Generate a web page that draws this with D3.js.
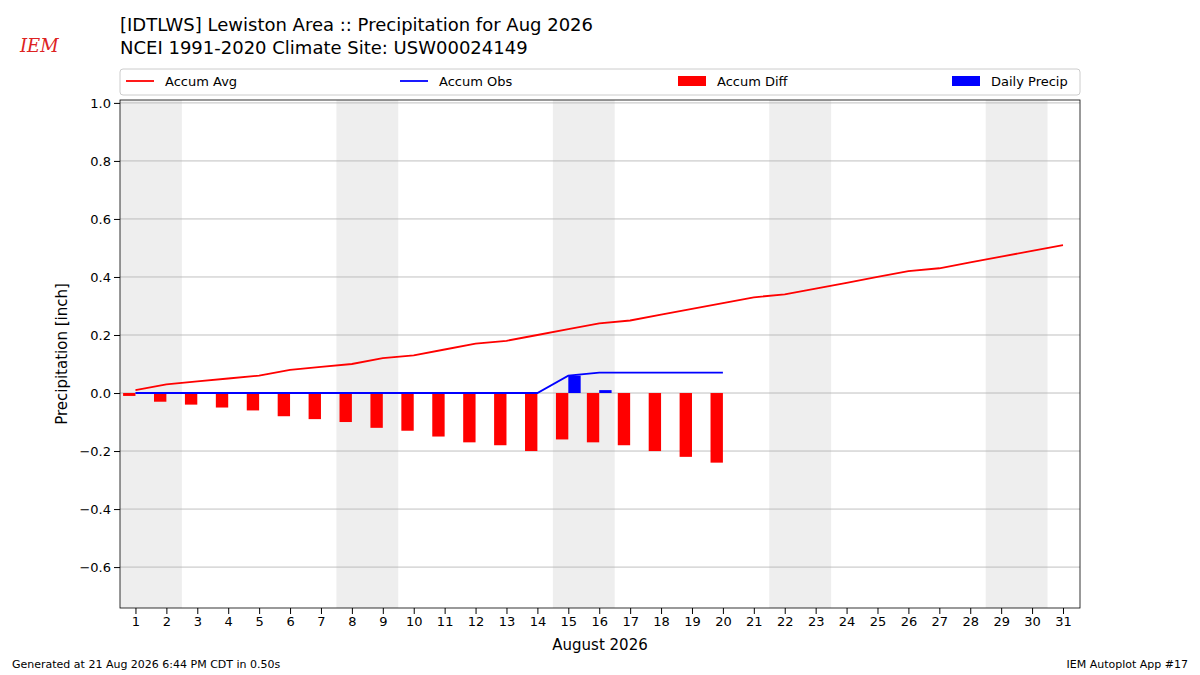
<!DOCTYPE html>
<html><head><meta charset="utf-8">
<script src="https://cdn.jsdelivr.net/npm/d3@7"></script>
<style>body{margin:0;background:#fff;font-family:"DejaVu Sans",sans-serif}</style>
</head><body><div id="chart"></div>
<script>
const days = d3.range(1, 32);
const accumAvg = [0.01,0.03,0.04,0.05,0.06,0.08,0.09,0.10,0.12,0.13,0.15,0.17,0.18,0.20,0.22,0.24,0.25,0.27,0.29,0.31,0.33,0.34,0.36,0.38,0.40,0.42,0.43,0.45,0.47,0.49,0.51];
const accumObs = [0,0,0,0,0,0,0,0,0,0,0,0,0,0,0.06,0.07,0.07,0.07,0.07,0.07];
const accumDiff = [-0.01,-0.03,-0.04,-0.05,-0.06,-0.08,-0.09,-0.10,-0.12,-0.13,-0.15,-0.17,-0.18,-0.20,-0.16,-0.17,-0.18,-0.20,-0.22,-0.24];
const dailyPrecip = [0,0,0,0,0,0,0,0,0,0,0,0,0,0,0.06,0.01,0,0,0,0];
const weekendStarts = [1, 8, 15, 22, 29];
const yTicks = [-0.6,-0.4,-0.2,0,0.2,0.4,0.6,0.8,1.0];

let W = 1200, H = 675;
let margin = {top: 100, right: 120, bottom: 67, left: 120},
    width = W - margin.left - margin.right,
    height = H - margin.top - margin.bottom;

let svg = d3.select("#chart").append("svg").attr("width", W).attr("height", H);

// header
svg.append("text").attr("x", 120).attr("y", 31).attr("font-size", 18).text("[IDTLWS] Lewiston Area :: Precipitation for Aug 2026");
svg.append("text").attr("x", 120).attr("y", 54).attr("font-size", 18).text("NCEI 1991-2020 Climate Site: USW00024149");
svg.append("text").attr("x", 20).attr("y", 52).attr("font-size", 18).attr("font-style", "italic")
  .attr("font-family", "DejaVu Serif").attr("fill", "#d22").text("IEM");
svg.append("text").attr("x", 12).attr("y", 668).attr("font-size", 11).text("Generated at 21 Aug 2026 6:44 PM CDT in 0.50s");
svg.append("text").attr("x", 1188).attr("y", 668).attr("font-size", 11).attr("text-anchor", "end").text("IEM Autoplot App #17");

let g = svg.append("g").attr("transform", "translate(" + margin.left + "," + margin.top + ")");
let x = d3.scaleLinear().domain([0.5, 31.55]).range([0, width]);
let y = d3.scaleLinear().domain([-0.741, 1.01]).range([height, 0]);

// weekend shading
g.selectAll(".wk").data(weekendStarts).enter().append("rect")
  .attr("x", d => x(d - 0.5)).attr("width", d => x(d + 1.5) - x(d - 0.5))
  .attr("y", 0).attr("height", height).attr("fill", "#eeeeee");

// grid
g.selectAll(".grid").data(yTicks).enter().append("line")
  .attr("x1", 0).attr("x2", width).attr("y1", d => y(d)).attr("y2", d => y(d))
  .attr("stroke", "#b0b0b0").attr("stroke-width", 0.8);

// diff bars
g.selectAll(".diff").data(accumDiff).enter().append("rect")
  .attr("x", (d, i) => x(days[i] - 0.4)).attr("width", x(0.9) - x(0.5))
  .attr("y", d => y(Math.max(0, d))).attr("height", d => Math.abs(y(d) - y(0)))
  .attr("fill", "red");

// daily precip bars
g.selectAll(".daily").data(dailyPrecip).enter().append("rect")
  .attr("x", (d, i) => x(days[i])).attr("width", x(0.9) - x(0.5))
  .attr("y", d => y(d)).attr("height", d => y(0) - y(d))
  .attr("fill", "blue");

let line = d3.line().x((d, i) => x(days[i])).y(d => y(d));
g.append("path").datum(accumAvg).attr("d", line).attr("fill", "none").attr("stroke", "red").attr("stroke-width", 1.8);
g.append("path").datum(accumObs).attr("d", line).attr("fill", "none").attr("stroke", "blue").attr("stroke-width", 1.8);

// axes
let xAxis = g.append("g").attr("transform", "translate(0," + height + ")")
  .call(d3.axisBottom(x).tickValues(days).tickFormat(d3.format("d")).tickSizeOuter(0));
let yAxis = g.append("g").call(d3.axisLeft(y).tickValues(yTicks).tickFormat(d3.format(".1f")).tickSizeOuter(0));
[xAxis, yAxis].forEach(a => {
  a.selectAll("text").attr("font-size", 13).attr("font-family", "DejaVu Sans").attr("fill", "#000");
  a.select(".domain").remove();
});
yAxis.selectAll("text").text(d => d3.format(".1f")(d).replace("-", "\u2212"));
g.append("rect").attr("width", width).attr("height", height).attr("fill", "none").attr("stroke", "#000").attr("stroke-width", 0.8);

svg.append("text").attr("x", margin.left + width / 2).attr("y", 650).attr("text-anchor", "middle").attr("font-size", 15).text("August 2026");
svg.append("text").attr("transform", "translate(67," + (margin.top + height / 2) + ") rotate(-90)")
  .attr("text-anchor", "middle").attr("font-size", 15).text("Precipitation [inch]");

// legend
let lg = svg.append("g");
lg.append("rect").attr("x", 120).attr("y", 69).attr("width", 960).attr("height", 26).attr("rx", 3)
  .attr("fill", "#fff").attr("stroke", "#ccc");
let items = [
  {label: "Accum Avg", color: "red", type: "line", x: 126},
  {label: "Accum Obs", color: "blue", type: "line", x: 400},
  {label: "Accum Diff", color: "red", type: "rect", x: 678},
  {label: "Daily Precip", color: "blue", type: "rect", x: 952}
];
items.forEach(it => {
  if (it.type === "line") lg.append("line").attr("x1", it.x).attr("x2", it.x + 28).attr("y1", 81).attr("y2", 81).attr("stroke", it.color).attr("stroke-width", 1.8);
  else lg.append("rect").attr("x", it.x).attr("y", 76).attr("width", 28).attr("height", 10).attr("fill", it.color);
  lg.append("text").attr("x", it.x + 39).attr("y", 86).attr("font-size", 13).text(it.label);
});
</script></body></html>
